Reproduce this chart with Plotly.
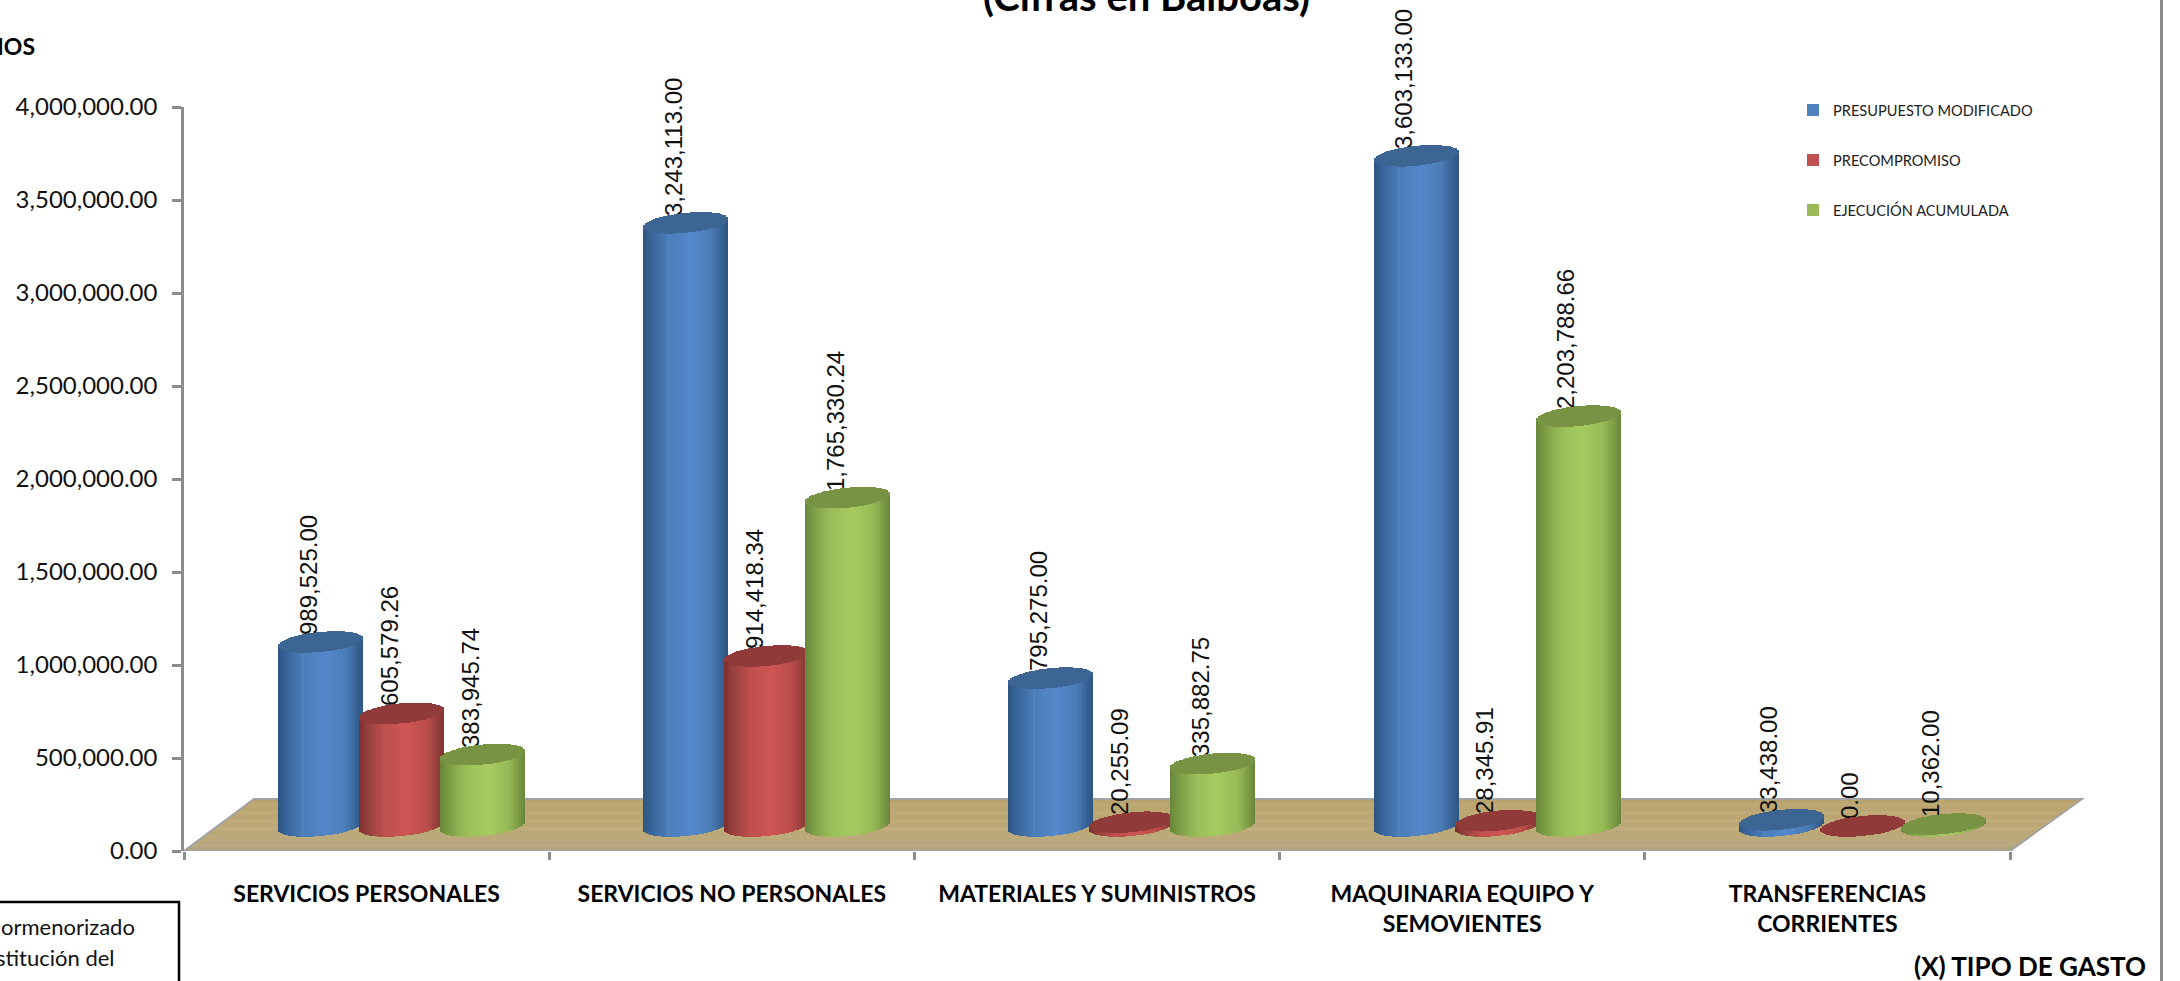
import math
import plotly.graph_objects as go

categories = ["SERVICIOS PERSONALES", "SERVICIOS NO PERSONALES", "MATERIALES Y SUMINISTROS",
              "MAQUINARIA EQUIPO Y<br>SEMOVIENTES", "TRANSFERENCIAS<br>CORRIENTES"]
presupuesto = [989525.00, 3243113.00, 795275.00, 3603133.00, 33438.00]
precompromiso = [605579.26, 914418.34, 20255.09, 28345.91, 0.00]
ejecucion = [383945.74, 1765330.24, 335882.75, 2203788.66, 10362.00]
y_ticks = [0, 500000, 1000000, 1500000, 2000000, 2500000, 3000000, 3500000, 4000000]
floor_tones = ["#B8A36F", "#BEA874", "#BBA571", "#BFAA77", "#BBA672", "#BFAB79", "#BCA775",
               "#C0AC7C", "#BBA877", "#BDAA7C", "#B9A87B", "#B9A981", "#B4A47E"]

W, H = 2180, 981
L, R, T, B = 184, 2090, 107, 851
PX_X = 1826 / 5
PX_Y = (B - T) / 4000000
N = 42
px = lambda v: v / PX_Y
ux = lambda v: v / PX_X
paper_x = lambda p: (p - L) / (R - L)
paper_y = lambda p: (B - p) / (B - T)

FLOOR = px(25)
RY = px(10)
TILT = px(4)
WIDTH = ux(85)
START = ux(136.5)
STEP = ux(81)
LABEL_DX = ux(-13)
LABEL_DY = px(-7)

series = [
    dict(name="PRESUPUESTO MODIFICADO", values=presupuesto, base="#4F81BD", top="#3C6593",
         stops=["#2E5480", "#38649A", "#4A7DB8", "#5388CB", "#4A7CB6", "#386296", "#2F5480"]),
    dict(name="PRECOMPROMISO", values=precompromiso, base="#C0504D", top="#903B39",
         stops=["#7B2E2C", "#95403D", "#BC4F4C", "#CF5553", "#BA4D4A", "#933D3B", "#7F3230"]),
    dict(name="EJECUCIÓN ACUMULADA", values=ejecucion, base="#9BBB59", top="#789343",
         stops=["#67853A", "#7D9C46", "#9ABD59", "#A6CC60", "#98B957", "#7B9A45", "#68863A"]),
]
STOP_T = [-1, -0.8, -0.4, 0.1, 0.6, 0.85, 1]


def mix(stops, t):
    for i in range(len(STOP_T) - 1):
        if t <= STOP_T[i + 1]:
            f = (t - STOP_T[i]) / (STOP_T[i + 1] - STOP_T[i])
            a, b = stops[i], stops[i + 1]
            ch = [round(int(a[j:j + 2], 16) * (1 - f) + int(b[j:j + 2], 16) * f) for j in (1, 3, 5)]
            return "#%02X%02X%02X" % tuple(ch)
    return stops[-1]


fig = go.Figure()

# value labels first, so the cylinder tops hide their lower edge as in the reference
for s_i, s in enumerate(series):
    fig.add_trace(go.Bar(
        x=[i + START + s_i * STEP + LABEL_DX for i in range(len(categories))],
        y=[v + FLOOR - LABEL_DY for v in s["values"]],
        width=ux(4), showlegend=False, hoverinfo="skip", cliponaxis=False,
        marker=dict(color="rgba(0,0,0,0)", line=dict(width=0)),
        text=[f"{v:,.2f}" for v in s["values"]], textposition="outside", textangle=-90,
        constraintext="none", textfont=dict(family="Liberation Sans", size=24, color="#111111"),
    ))

for s_i, s in enumerate(series):
    xc = [i + START + s_i * STEP for i in range(len(categories))]
    ts = [-1 + (k + 0.5) * 2 / N for k in range(N)]
    legend_k = min(range(N), key=lambda k: abs(ts[k] + 0.4))
    for k, t in enumerate(ts):
        curve = RY * math.sqrt(1 - t * t)
        tilt = TILT * t
        fig.add_trace(go.Bar(
            x=[c + t * WIDTH / 2 for c in xc],
            base=[FLOOR + tilt - curve for _ in s["values"]],
            y=[v + curve for v in s["values"]],
            width=WIDTH / N, name=s["name"], legendgroup=s["name"],
            showlegend=k == legend_k, hoverinfo="skip",
            marker=dict(color=s["base"] if k == legend_k else mix(s["stops"], t), line=dict(width=0)),
        ))
    for k, t in enumerate(ts):
        curve = RY * math.sqrt(1 - t * t)
        tilt = TILT * t
        fig.add_trace(go.Bar(
            x=[c + t * WIDTH / 2 for c in xc],
            base=[v + FLOOR + tilt - curve for v in s["values"]],
            y=[2 * curve for _ in s["values"]],
            width=WIDTH / N, showlegend=False, legendgroup=s["name"], hoverinfo="skip",
            marker=dict(color=s["top"], line=dict(width=0)),
        ))

GREY = "#8C8C8C"
floor_h = px(52)
back_l, back_r, front_r = ux(70), ux(1898), 5.0
shapes = []
for b_i, tone in enumerate(floor_tones):
    f0 = 1 - b_i / len(floor_tones)
    f1 = 1 - (b_i + 1) / len(floor_tones)
    pts = [(back_l * f, floor_h * f) for f in (f1, f0)] + \
          [(front_r + (back_r - front_r) * f, floor_h * f) for f in (f0, f1)]
    path = "M " + " L ".join(f"{a} {b}" for a, b in pts) + " Z"
    shapes.append(dict(type="path", xref="x", yref="y", layer="below", path=path,
                       fillcolor=tone, line=dict(color=tone, width=0.5)))
shapes += [
    dict(type="path", xref="x", yref="y", layer="below",
         path=f"M 0 0 L {back_l} {floor_h} L {back_r} {floor_h} L {front_r} 0 Z",
         fillcolor="rgba(0,0,0,0)", line=dict(color="#A3A3A3", width=2)),
    dict(type="line", xref="paper", yref="paper", x0=paper_x(2161.5), x1=paper_x(2161.5),
         y0=paper_y(H + 2), y1=paper_y(-2), line=dict(color=GREY, width=3)),
    dict(type="rect", xref="paper", yref="paper", x0=paper_x(-10), x1=paper_x(179),
         y0=paper_y(H + 20), y1=paper_y(902), line=dict(color="black", width=2.5)),
]

annotations = [
    dict(text="<b>(Cifras en Balboas)</b>", xref="paper", yref="paper", x=paper_x(1146), y=paper_y(22),
         xanchor="center", yanchor="bottom", showarrow=False, font=dict(family="Lato", size=40, color="black")),
    dict(text="<b>IOS</b>", xref="paper", yref="paper", x=paper_x(37), y=paper_y(46),
         xanchor="right", yanchor="middle", showarrow=False, font=dict(family="Lato", size=23, color="black")),
    dict(text="<b>(X) TIPO DE GASTO</b>", xref="paper", yref="paper", x=paper_x(2148), y=paper_y(966),
         xanchor="right", yanchor="middle", showarrow=False, font=dict(family="Lato", size=26, color="black")),
    dict(text="ormenorizado", xref="paper", yref="paper", x=paper_x(137), y=paper_y(926),
         xanchor="right", yanchor="middle", showarrow=False, font=dict(family="Lato", size=22, color="#111111")),
    dict(text="stitución del", xref="paper", yref="paper", x=paper_x(117), y=paper_y(957),
         xanchor="right", yanchor="middle", showarrow=False, font=dict(family="Lato", size=22, color="#111111")),
]

fig.update_layout(
    width=W, height=H, autosize=False, margin=dict(l=L, r=W - R, t=T, b=H - B, pad=0),
    paper_bgcolor="white", plot_bgcolor="white", barmode="overlay", bargap=0,
    shapes=shapes, annotations=annotations,
    legend=dict(x=paper_x(1793), xanchor="left", y=paper_y(94), yanchor="top",
                font=dict(family="Lato", size=14.6, color="#222222"), tracegroupgap=28,
                bgcolor="rgba(0,0,0,0)", itemclick=False, itemdoubleclick=False),
    xaxis=dict(range=[0, (R - L) / PX_X], tickmode="array",
               tickvals=[i + 0.5 for i in range(len(categories))], ticktext=categories,
               ticks="", showgrid=False, zeroline=False, showline=False, ticklabelstandoff=27,
               tickfont=dict(family="Lato", size=23, color="black", weight="bold"),
               minor=dict(tickmode="array", tickvals=list(range(6)), ticks="outside", ticklen=8,
                          tickwidth=2.5, tickcolor=GREY, showgrid=False)),
    yaxis=dict(range=[0, 4000000], tickmode="array", tickvals=y_ticks,
               ticktext=[f"{v:,.2f}" for v in y_ticks], ticks="outside", ticklen=9, tickwidth=2.5,
               tickcolor=GREY, showline=True, linecolor=GREY, linewidth=2.5, showgrid=False,
               zeroline=False, ticklabelstandoff=10,
               tickfont=dict(family="Lato", size=24, color="#111111")),
)

fig.write_html("out.html", config={"displayModeBar": False},
               post_script="document.body.style.margin='0';document.body.style.overflow='hidden';")
